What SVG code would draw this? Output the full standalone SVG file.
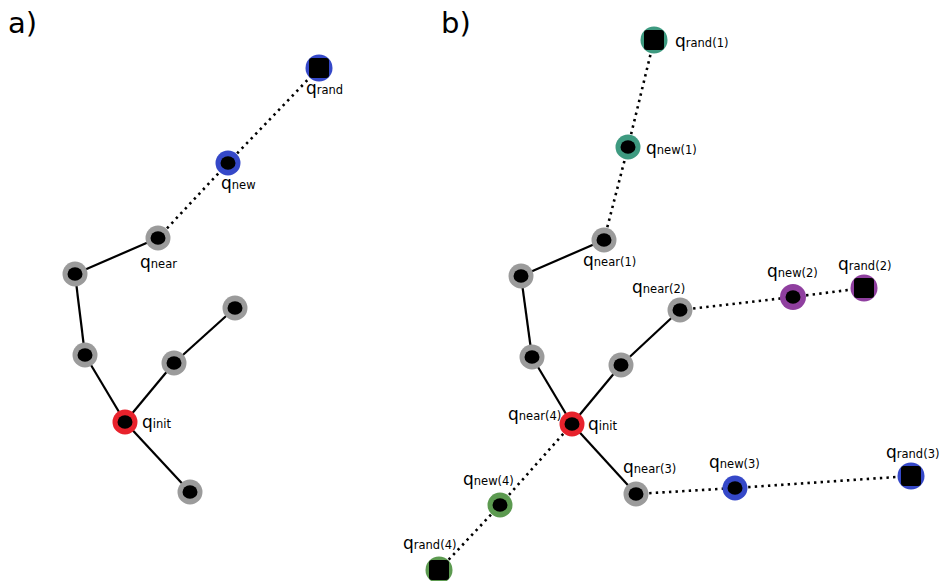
<svg xmlns="http://www.w3.org/2000/svg" width="939" height="581" viewBox="0 0 939 581">
<style>
.edge{stroke:#000;stroke-width:2.2;fill:none}
.dot{stroke:#000;stroke-width:2.6;fill:none;stroke-dasharray:2.4 4.2}
.in{fill:#000}
.gray{fill:#9b9b9b}
.red{fill:#e8222c}
.blue{fill:#3548c8}
.teal{fill:#3e9a80}
.purple{fill:#8f3f9f}
.green{fill:#5c9a50}
text{font-family:"DejaVu Sans",sans-serif;fill:#000}
.q{font-size:17px}
.s{font-size:11.5px}
.panel{font-size:29px}
</style>
<defs>
<g id="node"><ellipse class="in" rx="7.5" ry="6.8"/></g>
<g id="sq"><rect x="-10" y="-10" width="20" height="20" rx="3" class="in"/></g>
</defs>
<rect width="939" height="581" fill="#fff"/>
<text class="panel" x="8" y="33">a)</text>
<text class="panel" x="441" y="33">b)</text>
<g id="connectors">
<line class="edge" x1="158" y1="238" x2="75" y2="274"/>
<line class="edge" x1="75" y1="274" x2="85" y2="355"/>
<line class="edge" x1="85" y1="355" x2="125" y2="422"/>
<line class="edge" x1="125" y1="422" x2="174" y2="363"/>
<line class="edge" x1="174" y1="363" x2="235" y2="308"/>
<line class="edge" x1="125" y1="422" x2="190" y2="492"/>
<line class="dot" x1="158" y1="238" x2="228" y2="163"/>
<line class="dot" x1="228" y1="163" x2="319" y2="68"/>
<line class="edge" x1="604" y1="240" x2="521" y2="276"/>
<line class="edge" x1="521" y1="276" x2="532" y2="357"/>
<line class="edge" x1="532" y1="357" x2="572" y2="424"/>
<line class="edge" x1="572" y1="424" x2="621" y2="365"/>
<line class="edge" x1="621" y1="365" x2="680" y2="310"/>
<line class="edge" x1="572" y1="424" x2="636" y2="494"/>
<line class="dot" x1="604" y1="240" x2="628" y2="147"/>
<line class="dot" x1="628" y1="147" x2="654" y2="40"/>
<line class="dot" x1="680" y1="310" x2="793" y2="297"/>
<line class="dot" x1="793" y1="297" x2="864" y2="288"/>
<line class="dot" x1="636" y1="494" x2="735" y2="488"/>
<line class="dot" x1="735" y1="488" x2="911" y2="476"/>
<line class="dot" x1="572" y1="424" x2="500" y2="505"/>
<line class="dot" x1="500" y1="505" x2="439" y2="570"/>
</g>
<g id="a-rand"><circle class="blue" cx="319" cy="68" r="13.5"/><use href="#sq" x="319" y="68"/><text x="306" y="94"><tspan class="q">q</tspan><tspan class="s">rand</tspan></text></g>
<g id="a-new"><circle class="blue" cx="228" cy="163" r="12.5"/><use href="#node" x="228" y="163"/><text x="221" y="189"><tspan class="q">q</tspan><tspan class="s">new</tspan></text></g>
<g id="a-near"><circle class="gray" cx="158" cy="238" r="12.5"/><use href="#node" x="158" y="238"/><text x="140" y="268"><tspan class="q">q</tspan><tspan class="s">near</tspan></text></g>
<g id="a-n1"><circle class="gray" cx="75" cy="274" r="12.5"/><use href="#node" x="75" y="274"/></g>
<g id="a-n2"><circle class="gray" cx="85" cy="355" r="12.5"/><use href="#node" x="85" y="355"/></g>
<g id="a-init"><circle class="red" cx="125" cy="422" r="12.5"/><use href="#node" x="125" y="422"/><text x="142" y="428"><tspan class="q">q</tspan><tspan class="s">init</tspan></text></g>
<g id="a-n3"><circle class="gray" cx="174" cy="363" r="12.5"/><use href="#node" x="174" y="363"/></g>
<g id="a-n4"><circle class="gray" cx="235" cy="308" r="12.5"/><use href="#node" x="235" y="308"/></g>
<g id="a-n5"><circle class="gray" cx="190" cy="492" r="12.5"/><use href="#node" x="190" y="492"/></g>

<g id="b-rand1"><circle class="teal" cx="654" cy="40" r="13.5"/><use href="#sq" x="654" y="40"/><text x="675" y="47"><tspan class="q">q</tspan><tspan class="s">rand(1)</tspan></text></g>
<g id="b-new1"><circle class="teal" cx="628" cy="147" r="12.5"/><use href="#node" x="628" y="147"/><text x="646" y="154"><tspan class="q">q</tspan><tspan class="s">new(1)</tspan></text></g>
<g id="b-near1"><circle class="gray" cx="604" cy="240" r="12.5"/><use href="#node" x="604" y="240"/><text x="583" y="266"><tspan class="q">q</tspan><tspan class="s">near(1)</tspan></text></g>
<g id="b-n1"><circle class="gray" cx="521" cy="276" r="12.5"/><use href="#node" x="521" y="276"/></g>
<g id="b-n2"><circle class="gray" cx="532" cy="357" r="12.5"/><use href="#node" x="532" y="357"/></g>
<g id="b-init"><circle class="red" cx="572" cy="424" r="12.5"/><use href="#node" x="572" y="424"/><text x="588" y="430"><tspan class="q">q</tspan><tspan class="s">init</tspan></text><text x="508" y="420"><tspan class="q">q</tspan><tspan class="s">near(4)</tspan></text></g>
<g id="b-n3"><circle class="gray" cx="621" cy="365" r="12.5"/><use href="#node" x="621" y="365"/></g>
<g id="b-near2"><circle class="gray" cx="680" cy="310" r="12.5"/><use href="#node" x="680" y="310"/><text x="632" y="293"><tspan class="q">q</tspan><tspan class="s">near(2)</tspan></text></g>
<g id="b-new2"><circle class="purple" cx="793" cy="297" r="13"/><use href="#node" x="793" y="297"/><text x="767" y="277"><tspan class="q">q</tspan><tspan class="s">new(2)</tspan></text></g>
<g id="b-rand2"><circle class="purple" cx="864" cy="288" r="13.5"/><use href="#sq" x="864" y="288"/><text x="838" y="270"><tspan class="q">q</tspan><tspan class="s">rand(2)</tspan></text></g>
<g id="b-near3"><circle class="gray" cx="636" cy="494" r="12.5"/><use href="#node" x="636" y="494"/><text x="623" y="473"><tspan class="q">q</tspan><tspan class="s">near(3)</tspan></text></g>
<g id="b-new3"><circle class="blue" cx="735" cy="488" r="12.5"/><use href="#node" x="735" y="488"/><text x="709" y="468"><tspan class="q">q</tspan><tspan class="s">new(3)</tspan></text></g>
<g id="b-rand3"><circle class="blue" cx="911" cy="476" r="13.5"/><use href="#sq" x="911" y="476"/><text x="886" y="458"><tspan class="q">q</tspan><tspan class="s">rand(3)</tspan></text></g>
<g id="b-new4"><circle class="green" cx="500" cy="505" r="12.5"/><use href="#node" x="500" y="505"/><text x="463" y="485"><tspan class="q">q</tspan><tspan class="s">new(4)</tspan></text></g>
<g id="b-rand4"><circle class="green" cx="439" cy="570" r="13.5"/><use href="#sq" x="439" y="570"/><text x="403" y="549"><tspan class="q">q</tspan><tspan class="s">rand(4)</tspan></text></g>
</svg>
